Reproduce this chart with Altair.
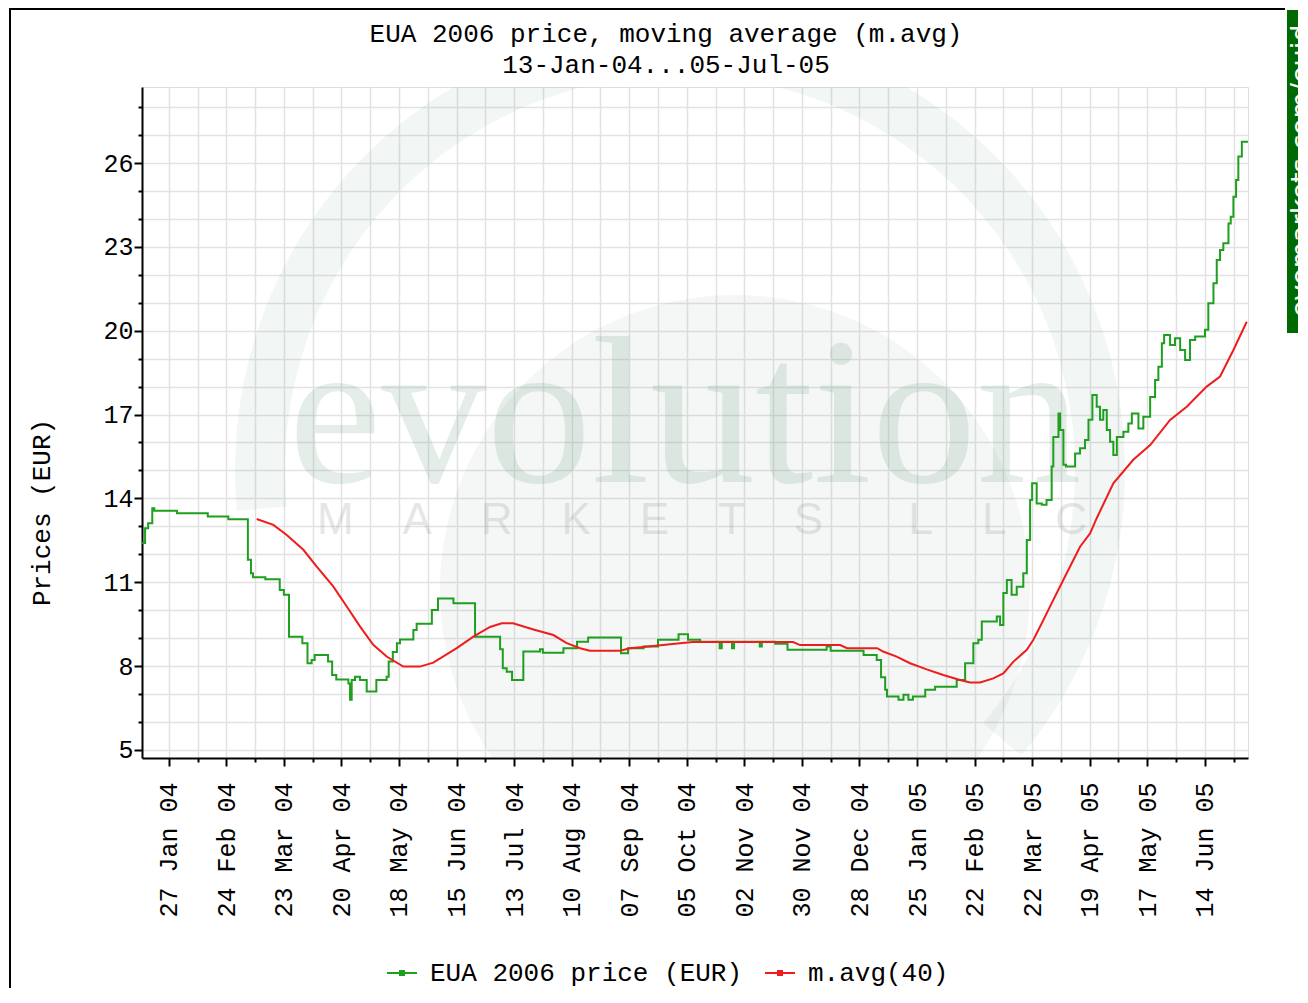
import altair as alt
import pandas as pd

START = "2004-01-14"  # left edge of the time axis; day numbers below count from here

# EUA 2006 price (EUR): day number since START, value (step series)
price_day = [0, 1.5, 3, 5, 6, 17, 32, 42, 51.5, 53,
             54, 60, 67, 69, 71.5, 78, 80.5, 82.5, 84, 90.5,
             92.5, 94.5, 100.4, 101.2, 102, 103.6, 106, 109.3, 114, 119,
             120, 122, 124, 125.5, 132, 133.6, 141, 144, 151.5, 162,
             174.2, 175.5, 177.4, 180, 185.5, 193.6, 195, 205, 211.6, 217,
             233, 236.4, 244, 251, 261, 265.6, 271.5, 281, 282, 287,
             288, 300.5, 301.5, 308, 314, 333, 335, 351, 357.4, 359.5,
             361.5, 362.4, 368, 370.4, 372.8, 375, 381, 385.8, 396.3, 400.4,
             404.4, 406.8, 408.5, 415.8, 417.4, 419, 420.7, 423, 425.5, 428.7,
             430.4, 432, 433, 435.2, 437.7, 440, 442.5, 443.3, 445.8, 446.6,
             448.2, 449.5, 453.9, 456.3, 458.7, 460.4, 462.3, 464.4, 466, 467.6,
             469.3, 470.9, 472.5, 474.2, 477.4, 479.8, 481.5, 484.7, 487.1, 490.4,
             492.8, 494.4, 496.1, 497.2, 500.1, 502.5, 505, 507.4, 509.8, 512.3,
             517.1, 518.7, 521.2, 522.8, 524.4, 526, 528.5, 529.6, 530.9, 532.2,
             533.3, 535, 538]
price_val = [12.40, 12.93, 13.11, 13.65, 13.56, 13.47, 13.35, 13.25, 11.80, 11.32,
             11.18, 11.11, 10.72, 10.55, 9.05, 8.82, 8.10, 8.22, 8.40, 8.16,
             7.68, 7.52, 7.38, 6.79, 7.50, 7.62, 7.50, 7.09, 7.50, 7.62,
             8.16, 8.50, 8.82, 8.95, 9.29, 9.51, 10.01, 10.42, 10.25, 9.05,
             8.60, 7.92, 7.80, 7.50, 8.52, 8.60, 8.48, 8.64, 8.87, 9.02,
             8.46, 8.64, 8.70, 8.94, 9.14, 8.94, 8.87, 8.64, 8.87, 8.64,
             8.87, 8.70, 8.87, 8.80, 8.58, 8.70, 8.55, 8.40, 8.22, 7.60,
             7.15, 6.91, 6.79, 6.97, 6.79, 6.91, 7.15, 7.26, 7.50, 8.10,
             8.82, 8.94, 9.59, 9.77, 9.47, 10.61, 11.08, 10.55, 10.84, 11.32,
             12.51, 13.94, 14.54, 13.82, 13.77, 13.94, 15.14, 16.20, 17.04, 16.45,
             15.20, 15.14, 15.61, 15.79, 16.09, 16.81, 17.70, 17.28, 16.81, 17.16,
             16.45, 16.03, 15.55, 16.20, 16.38, 16.68, 17.04, 16.50, 16.92, 17.63,
             18.24, 18.71, 19.55, 19.85, 19.49, 19.73, 19.31, 18.95, 19.67, 19.79,
             20.03, 20.98, 21.70, 22.53, 22.89, 23.13, 23.84, 24.08, 24.79, 25.39,
             26.23, 26.76, 26.76]

# 40-day moving average
avg_day = [55.8, 63.9, 70.4, 78.5, 85.0, 93.1, 99.6, 106.1, 112.5, 119.0,
           127.1, 135.2, 141.7, 153.1, 161.2, 169.3, 175, 180.5, 190.4, 200.1,
           206.6, 213.1, 217.9, 232.5, 237.4, 248.7, 261.7, 268.0, 316.7, 320.1,
           339.6, 343.0, 357.6, 360.5, 367.1, 373.6, 381.7, 389.8, 397.9, 402.8,
           407.7, 414.1, 419.0, 423.9, 430.4, 433.6, 437.7, 443.3, 449.8, 456.3,
           461.2, 464.4, 472.5, 482.2, 490.4, 500.1, 508.2, 517.9, 524.4, 530.9,
           537.4]
avg_val = [13.26, 13.05, 12.69, 12.16, 11.56, 10.84, 10.13, 9.41, 8.76, 8.34,
           7.98, 7.98, 8.12, 8.64, 9.05, 9.40, 9.53, 9.53, 9.31, 9.11,
           8.82, 8.64, 8.55, 8.55, 8.64, 8.72, 8.82, 8.86, 8.86, 8.75,
           8.75, 8.64, 8.64, 8.52, 8.34, 8.10, 7.88, 7.68, 7.50, 7.41,
           7.41, 7.56, 7.74, 8.16, 8.58, 8.94, 9.53, 10.37, 11.32, 12.27,
           12.75, 13.29, 14.54, 15.38, 15.91, 16.81, 17.28, 18.00, 18.36, 19.31,
           20.32]

series_names = ["EUA 2006 price (EUR)", "m.avg(40)"]
series_colors = ["#1f9f1f", "#f01c1c"]

major_ticks = ["2004-01-27", "2004-02-24", "2004-03-23", "2004-04-20", "2004-05-18",
               "2004-06-15", "2004-07-13", "2004-08-10", "2004-09-07", "2004-10-05",
               "2004-11-02", "2004-11-30", "2004-12-28", "2005-01-25", "2005-02-22",
               "2005-03-22", "2005-04-19", "2005-05-17", "2005-06-14"]
minor_ticks = ["2004-02-10", "2004-03-09", "2004-04-06", "2004-05-04", "2004-06-01",
               "2004-06-29", "2004-07-27", "2004-08-24", "2004-09-21", "2004-10-19",
               "2004-11-16", "2004-12-14", "2005-01-11", "2005-02-08", "2005-03-08",
               "2005-04-05", "2005-05-03", "2005-05-31", "2005-06-28"]
x_domain = ["2004-01-14", "2005-07-05"]
y_ticks = list(range(5, 29))
y_domain = [4.71, 28.72]

title_lines = ["EUA 2006 price, moving average (m.avg)", "13-Jan-04...05-Jul-05"]
watermark = ["evolution", "M A R K E T S  L L C", "evomarkets.com/euid"]
FONT = "Liberation Mono"


def dt(s):
    y, m, d = (int(p) for p in s.split("-"))
    return alt.DateTime(year=y, month=m, date=d)


base = pd.Timestamp(START)
price_df = pd.DataFrame({
    "date": base + pd.to_timedelta(price_day, unit="D"),
    "value": price_val,
    "series": series_names[0],
})
avg_df = pd.DataFrame({
    "date": base + pd.to_timedelta(avg_day, unit="D"),
    "value": avg_val,
    "series": series_names[1],
})

x_values = [dt(s) for s in sorted(major_ticks + minor_ticks)]
major_test = "round((datum.value - datetime(2004,0,27))/86400000) % 28 == 0"

x_enc = alt.X(
    "date:T",
    scale=alt.Scale(domain=[dt(s) for s in x_domain]),
    axis=alt.Axis(
        values=x_values, title=None, grid=True, gridColor="#e2e2e2", gridWidth=1.5,
        domainColor="black", domainWidth=2, tickColor="black", tickWidth=2,
        tickSize={"condition": {"test": major_test, "value": 8}, "value": 4},
        labelExpr=f"({major_test}) ? timeFormat(datum.value, '%d %b %y') : ''",
        labelFont=FONT, labelFontSize=25, labelColor="black", labelAngle=270,
        labelAlign="right", labelBaseline="middle", labelPadding=16,
        labelOverlap=False, labelFlush=False, labelBound=False,
    ),
)
y_test = "datum.value % 3 == 2"
y_enc = alt.Y(
    "value:Q",
    scale=alt.Scale(domain=y_domain, nice=False, zero=False),
    axis=alt.Axis(
        values=y_ticks, grid=True, gridColor="#e2e2e2", gridWidth=1.5,
        domainColor="black", domainWidth=2, tickColor="black", tickWidth=2,
        tickSize={"condition": {"test": y_test, "value": 8}, "value": 4},
        labelExpr=f"({y_test}) ? datum.label : ''",
        labelFont=FONT, labelFontSize=25, labelColor="black", labelPadding=1,
        labelOverlap=False, labelFlush=False,
        title="Prices (EUR)", titleFont=FONT, titleFontSize=26, titleFontWeight="normal",
        titleColor="black", titleAngle=270, titleX=-101, titleY=425,
        titleAlign="center", titleBaseline="middle",
    ),
)
color_enc = alt.Color(
    "series:N",
    scale=alt.Scale(domain=series_names, range=series_colors),
    legend=alt.Legend(
        title=None, orient="none", legendX=244, legendY=870, direction="horizontal",
        symbolType="M-1,0H1M-0.2,-0.13H0.2M-0.2,0H0.2M-0.2,0.13H0.2",
        symbolSize=900, symbolStrokeWidth=2, labelFont=FONT, labelFontSize=26,
        labelColor="black", labelOffset=12, columnPadding=18, padding=0,
        labelLimit=1000,
    ),
)

NB = "\u00a0"
sub_text = (NB * 4).join("MARKETS") + NB * 7 + (NB * 4).join("LLC")
deco = pd.DataFrame({"t": [watermark[0], sub_text, watermark[2],
                           title_lines[0], title_lines[1]]})

ring = alt.Chart(deco.iloc[[0]]).mark_arc(
    clip=True, fill="#6f9f86", fillOpacity=0.09, innerRadius=395, outerRadius=445,
).encode(x=alt.value(538), y=alt.value(383), theta=alt.value(4.62), theta2=alt.value(8.55))
disk = alt.Chart(deco.iloc[[0]]).mark_arc(
    clip=True, fill="#6f9f86", fillOpacity=0.08, outerRadius=295,
).encode(x=alt.value(593), y=alt.value(503), theta=alt.value(0), theta2=alt.value(6.2832))
word = alt.Chart(deco.iloc[[0]]).mark_text(
    font="Liberation Serif", fontSize=210, align="center", baseline="alphabetic",
    fill="#6f9f86", opacity=0.18,
).encode(x=alt.value(543), y=alt.value(395), text="t:N")
sub = alt.Chart(deco.iloc[[1]]).mark_text(
    font="Liberation Sans", fontSize=44, align="center", baseline="middle",
    fill="#888888", opacity=0.2,
).encode(x=alt.value(560), y=alt.value(434), text="t:N")

price_line = alt.Chart(price_df).mark_line(interpolate="step-after", strokeWidth=2).encode(
    x=x_enc, y=y_enc, color=color_enc)
avg_line = alt.Chart(avg_df).mark_line(strokeWidth=2).encode(
    x=x_enc, y=y_enc, color=color_enc)

frame_top = alt.Chart(deco.iloc[[0]]).mark_rule(color="black", strokeWidth=2).encode(
    x=alt.value(-132), x2=alt.value(1143), y=alt.value(-78))
frame_left = alt.Chart(deco.iloc[[0]]).mark_rule(color="black", strokeWidth=2).encode(
    x=alt.value(-132), y=alt.value(-79), y2=alt.value(901))
bar = alt.Chart(deco.iloc[[0]]).mark_rect(color="#006a00").encode(
    x=alt.value(1145), x2=alt.value(1170), y=alt.value(-77), y2=alt.value(246))
bar_text = alt.Chart(deco.iloc[[2]]).mark_text(
    font="DejaVu Sans", fontSize=27, angle=270, align="center", baseline="middle",
    color="white",
).encode(x=alt.value(1160), y=alt.value(84), text="t:N")

title1 = alt.Chart(deco.iloc[[3]]).mark_text(
    font=FONT, fontSize=26, align="center", baseline="alphabetic", color="black",
).encode(x=alt.value(524), y=alt.value(-45), text="t:N")
title2 = alt.Chart(deco.iloc[[4]]).mark_text(
    font=FONT, fontSize=26, align="center", baseline="alphabetic", color="black",
).encode(x=alt.value(524), y=alt.value(-14), text="t:N")

chart = alt.layer(
    ring, disk, word, sub, price_line, avg_line, frame_top, frame_left, bar, bar_text,
    title1, title2,
).properties(
    width=1106, height=671,
    autosize=alt.AutoSizeParams(type="none"),
    padding={"left": 134, "top": 79, "right": 50, "bottom": 230},
).configure_view(stroke="black", strokeWidth=2).configure(background="white")

chart.save("out.html", embed_options={"renderer": "svg", "actions": False})
